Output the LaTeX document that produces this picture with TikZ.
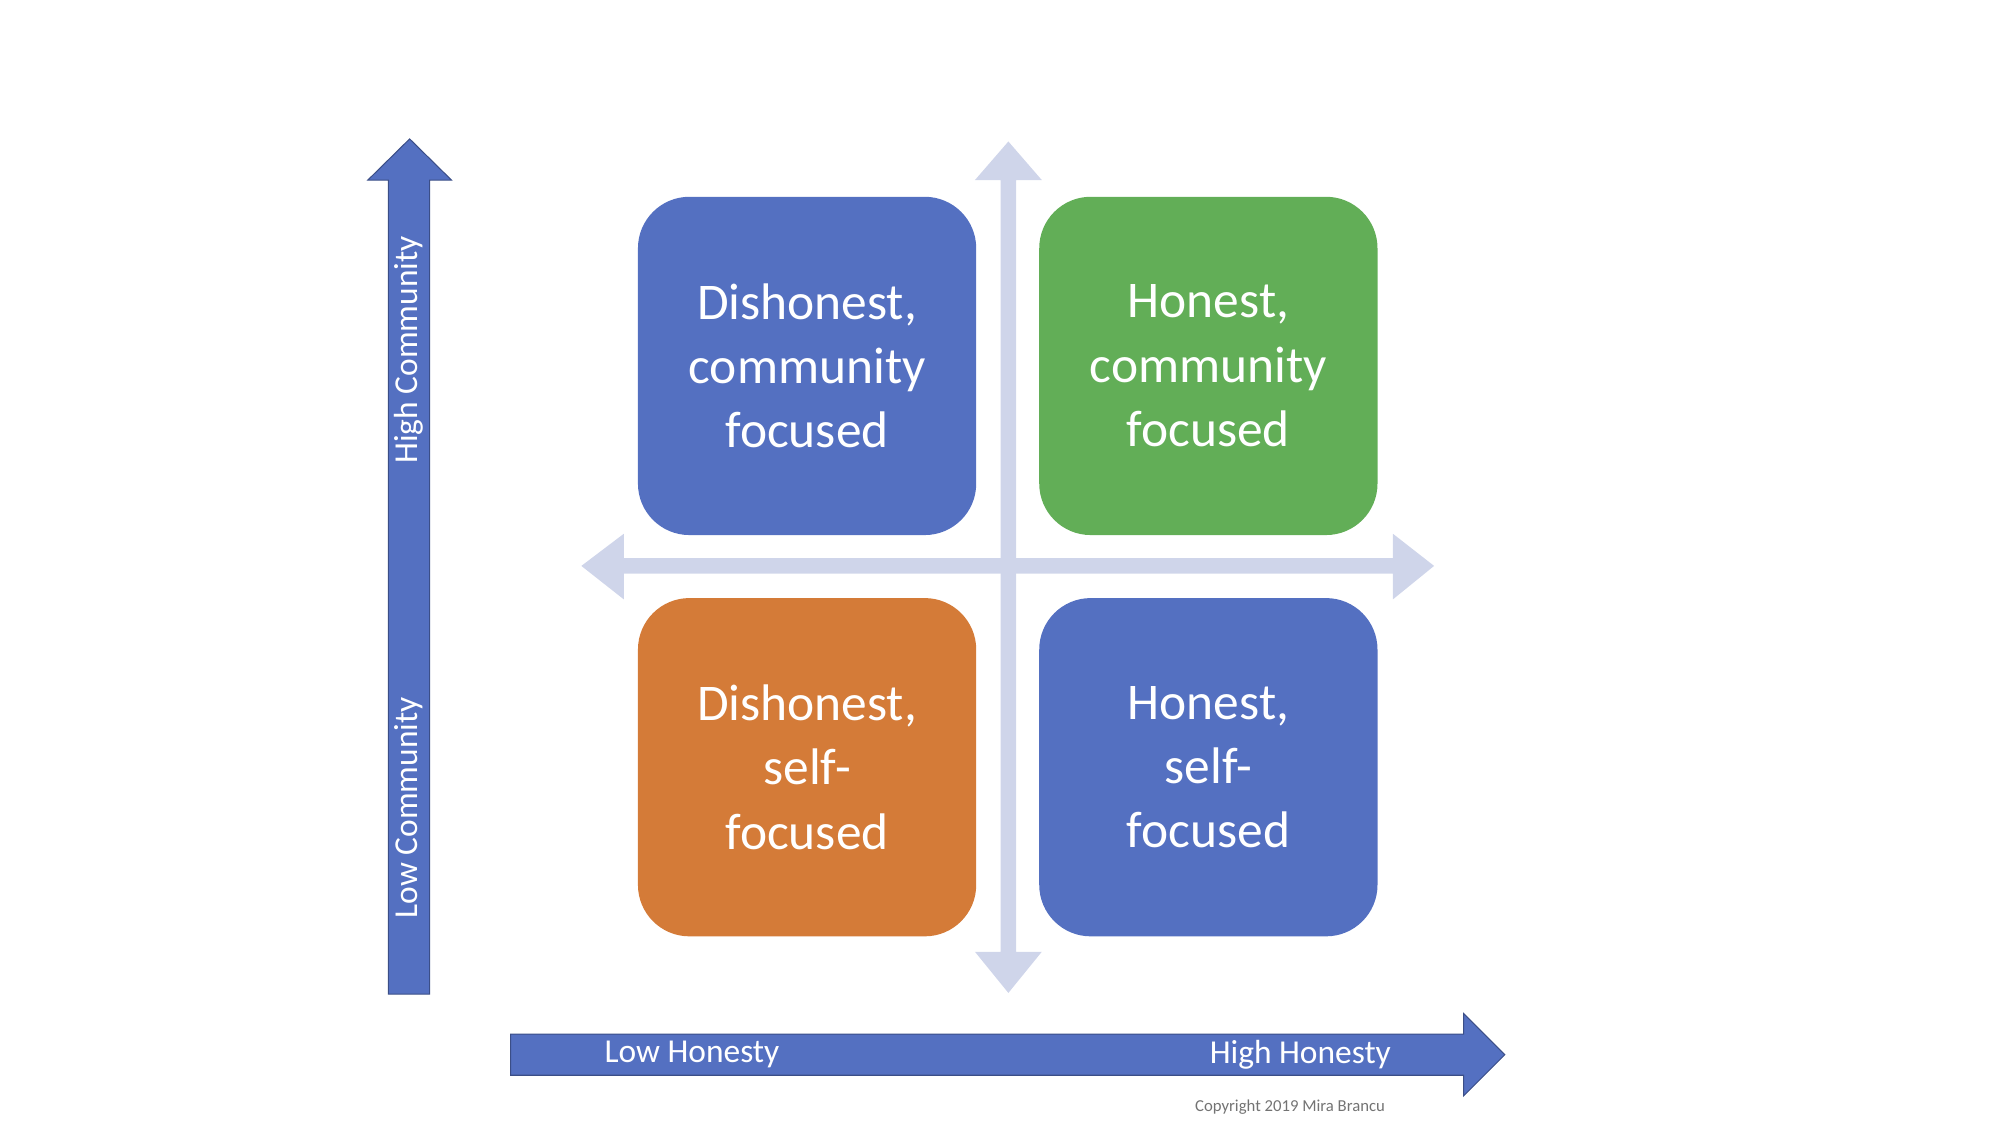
\documentclass[tikz,border=0pt]{standalone}
\usepackage{fontspec}
\setmainfont{Carlito}
\begin{document}
\begin{tikzpicture}[x=1pt,y=-1pt,
  quad/.style={rounded corners=40pt,minimum width=263pt,minimum height=263pt,align=center,text=white,font=\fontsize{40}{50}\selectfont,inner sep=0pt},
  axlbl/.style={text=white,font=\fontsize{26}{30}\selectfont},
  bigarrow/.style={fill=axisblue,draw=axisblue!70!black,line width=0.8pt},
  crossarrow/.style={fill=crossc}]
\definecolor{axisblue}{HTML}{5470C1}
\definecolor{qgreen}{HTML}{62AE57}
\definecolor{qorange}{HTML}{D47B38}
\definecolor{crossc}{HTML}{CFD5EA}
\useasboundingbox (0,0) rectangle (1555,875);
% cross
\fill[crossarrow] (778,140) -- (758,140) -- (784,110) -- (810,140) -- (790,140) -- (790,740) -- (810,740) -- (784,772) -- (758,740) -- (778,740) -- cycle;
\fill[crossarrow] (485,434) -- (485,415) -- (452,440) -- (485,466) -- (485,446) -- (1083,446) -- (1083,466) -- (1115,440) -- (1083,415) -- (1083,434) -- cycle;
% quadrants
\node[quad,fill=axisblue] (tl) at (627.5,284.5) {Dishonest,\\community\\focused};
\node[quad,fill=qgreen] (tr) at (939.5,284.5) {Honest,\\community\\focused};
\node[quad,fill=qorange] (bl) at (627.5,596.5) {Dishonest,\\self-\\focused};
\node[quad,fill=axisblue] (br) at (939.5,596.5) {Honest,\\self-\\focused};
% axes
\draw[bigarrow] (302,773) -- (302,140) -- (286,140) -- (318.5,108) -- (351,140) -- (334,140) -- (334,773) -- cycle;
\draw[bigarrow] (397,804) -- (1138,804) -- (1138,788) -- (1170,820) -- (1138,852) -- (1138,836) -- (397,836) -- cycle;
\node[axlbl,rotate=90] (hc) at (318,272) {High Community};
\node[axlbl,rotate=90] (lc) at (318,628) {Low Community};
\node[axlbl] (lh) at (538,820) {Low Honesty};
\node[axlbl] (hh) at (1011,820) {High Honesty};
\node[text=black!55,font=\fontsize{13}{15}\selectfont] (cp) at (1003,861) {Copyright 2019 Mira Brancu};
\end{tikzpicture}
\end{document}
